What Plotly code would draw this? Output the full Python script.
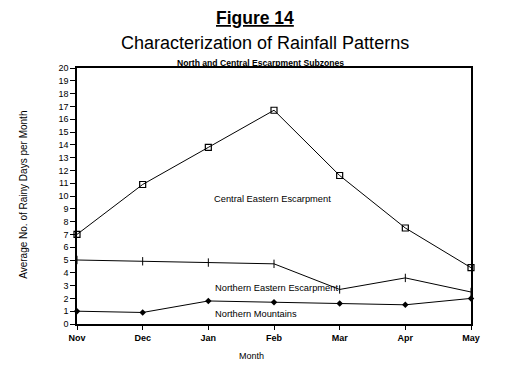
import plotly.graph_objects as go

months = ["Nov", "Dec", "Jan", "Feb", "Mar", "Apr", "May"]
central_eastern = [7.0, 10.9, 13.8, 16.7, 11.6, 7.5, 4.4]
northern_eastern = [5.0, 4.9, 4.8, 4.7, 2.7, 3.6, 2.5]
northern_mountains = [1.0, 0.9, 1.8, 1.7, 1.6, 1.5, 2.0]
y_ticks = list(range(0, 21))

FONT = "Liberation Sans, Arial, sans-serif"
xs = list(range(len(months)))

fig = go.Figure()
fig.add_trace(go.Scatter(x=xs, y=central_eastern, mode="lines+markers",
                         line=dict(color="black", width=1),
                         marker=dict(symbol="square-open", size=6, color="black", line=dict(width=1.2)),
                         cliponaxis=False, showlegend=False))
fig.add_trace(go.Scatter(x=xs, y=northern_eastern, mode="lines+markers",
                         line=dict(color="black", width=1),
                         marker=dict(symbol="line-ns", size=6, color="black", line=dict(width=1, color="black")),
                         cliponaxis=False, showlegend=False))
fig.add_trace(go.Scatter(x=xs, y=northern_mountains, mode="lines+markers",
                         line=dict(color="black", width=1),
                         marker=dict(symbol="diamond", size=5, color="black"),
                         cliponaxis=False, showlegend=False))

ann = [
    dict(text="<b><u>Figure 14</u></b>", x=0.452, y=1.195, font=dict(size=17.5)),
    dict(text="Characterization of Rainfall Patterns", x=0.477, y=1.096, font=dict(size=18)),
    dict(text="<b>North and Central Escarpment Subzones</b>", x=0.467, y=1.021, font=dict(size=8.6)),
    dict(text="Month", x=0.444, y=-0.125, font=dict(size=9)),
    dict(text="Central Eastern Escarpment", x=0.495, y=0.488, font=dict(size=9.3)),
    dict(text="Northern Eastern Escarpment", x=0.345, y=0.141, xanchor="left", font=dict(size=9.3)),
    dict(text="Northern Mountains", x=0.345, y=0.039, xanchor="left", font=dict(size=9.3)),
    dict(text="Average No. of Rainy Days per Month", x=-0.135, y=0.504, textangle=-90, font=dict(size=10)),
]
annotations = []
for a in ann:
    d = dict(xref="paper", yref="paper", showarrow=False, xanchor="center", yanchor="middle")
    d.update(a)
    d["font"] = dict(family=FONT, color="black", **a["font"])
    annotations.append(d)

fig.update_layout(
    width=500, height=365,
    margin=dict(l=69, r=37, t=60, b=49),
    paper_bgcolor="white", plot_bgcolor="white",
    font=dict(family=FONT, color="black"),
    annotations=annotations,
    xaxis=dict(range=[0, 6], tickvals=xs, ticktext=["<b>%s</b>" % m for m in months],
               showgrid=False, zeroline=False, showline=True, linecolor="black", linewidth=1.5,
               mirror=True, ticks="outside", ticklen=4, tickcolor="black",
               tickfont=dict(size=9, family=FONT)),
    yaxis=dict(range=[0, 20], tickvals=y_ticks, ticktext=[str(v) for v in y_ticks],
               showgrid=False, zeroline=False, showline=True, linecolor="black", linewidth=1.5,
               mirror=True, ticks="outside", ticklen=5, tickcolor="black",
               tickfont=dict(size=9, family=FONT)),
)

fig.write_html("out.html")
